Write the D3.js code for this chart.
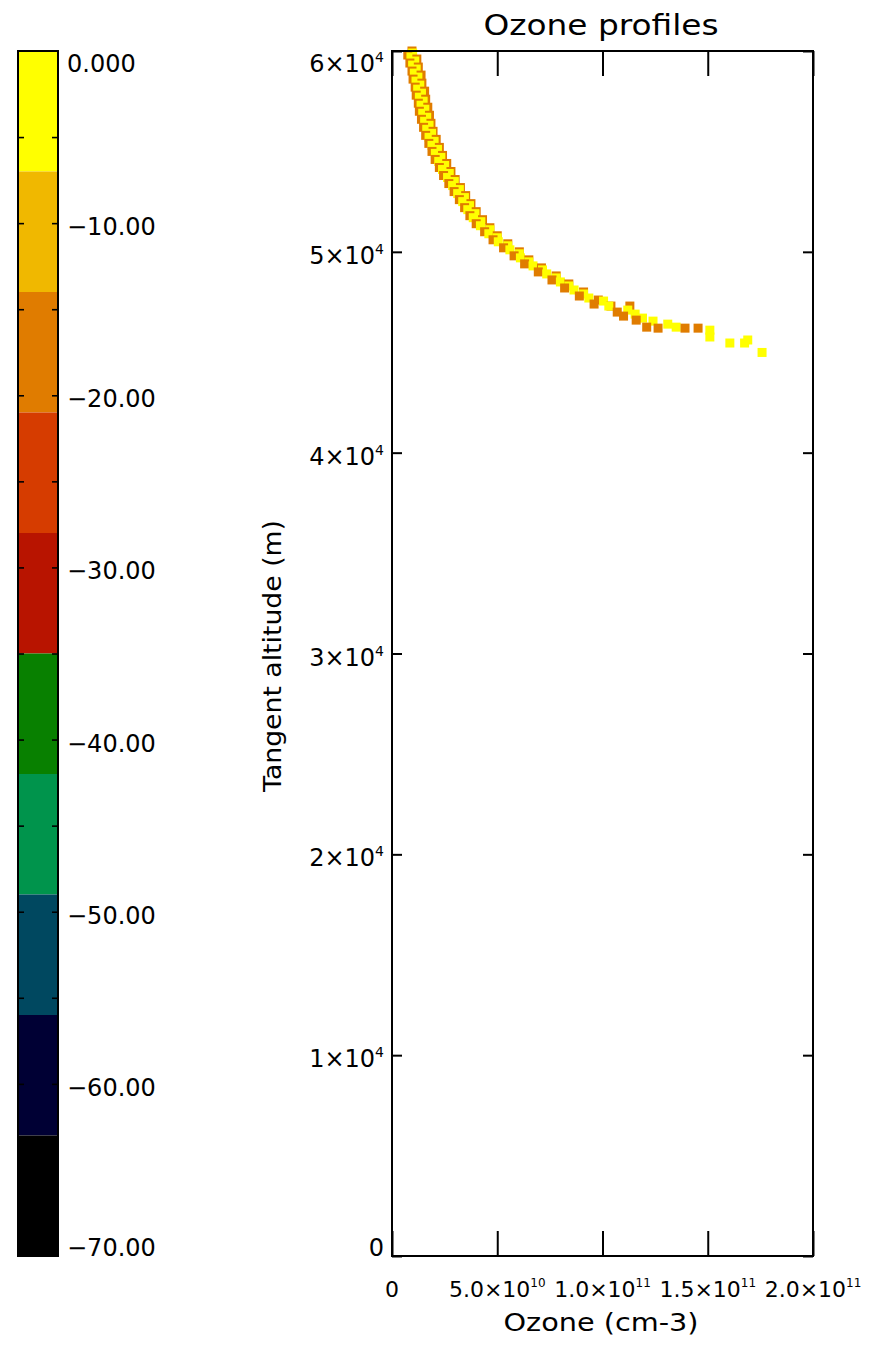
<!DOCTYPE html>
<html>
<head>
<meta charset="utf-8">
<script src="https://cdn.jsdelivr.net/npm/d3@7"></script>
<style>
  html, body { margin: 0; padding: 0; background: #ffffff; }
  text { font-family: "DejaVu Sans", sans-serif; fill: #000; }
</style>
</head>
<body>
<script>
// ---------------- data ----------------
const title = "Ozone profiles";
const xTitle = "Ozone (cm-3)";
const yTitle = "Tangent altitude (m)";

const xTickValues = [0, 5e10, 1e11, 1.5e11, 2e11];
const xTickBase = ["0", "5.0×10", "1.0×10", "1.5×10", "2.0×10"];
const xTickExp = ["", "10", "11", "11", "11"];

const yTickValues = [0, 10000, 20000, 30000, 40000, 50000, 60000];
const yTickBase = ["0", "1×10", "2×10", "3×10", "4×10", "5×10", "6×10"];
const yTickExp = ["", "4", "4", "4", "4", "4", "4"];

const cbEdges = [0, -7, -14, -21, -28, -35, -42, -49, -56, -63, -70];
const cbColors = ["#FFFF00", "#F0B800", "#E07C00", "#D63C00", "#B81400",
                  "#088000", "#00944C", "#004860", "#000034", "#000000"];
const cbTickValues = [0, -10, -20, -30, -40, -50, -60, -70];
const cbTickLabels = ["0.000", "−10.00", "−20.00", "−30.00", "−40.00", "−50.00", "−60.00", "−70.00"];
const cbMinorTicks = [-5, -10, -15, -20, -25, -30, -35, -40, -45, -50, -55, -60, -65];

// profile colour values (read against the colour bar)
const profileYellowValue = -3;
const profileOrangeValue = -17;

// ozone in units of 1e9 cm-3, altitude in m
const orangeOzone = [9.5, 7.5, 11.8, 8.5, 12.5, 9.5, 13.8, 10.0, 14.2, 11.0, 15.5, 11.5, 16.0, 12.5, 17.0,
  13.0, 17.8, 14.0, 18.5, 15.0, 19.5, 16.0, 21.0, 17.5, 22.5, 19.0, 24.0, 20.5, 26.0, 22.5, 28.0, 24.5, 30.0,
  27.0, 32.5, 29.5, 35.0, 32.0, 37.5, 34.5, 40.0, 37.0, 43.0, 40.0, 46.5, 44.0, 50.0, 48.0, 55.0, 53.0, 60.5,
  58.0, 65.0, 63.0, 71.0, 69.5, 78.0, 76.0, 84.0, 82.0, 91.0, 89.0, 98.0, 96.0, 104.0, 107.0, 110.0, 113.0,
  116.0, 121.0, 126.4, 139.2, 145.4];
const orangeAlt = [60000, 59800, 59600, 59400, 59200, 59000, 58800, 58600, 58400, 58200, 58000, 57800, 57600,
  57400, 57200, 57000, 56800, 56600, 56400, 56200, 56000, 55800, 55600, 55400, 55200, 55000, 54800, 54600,
  54400, 54200, 54000, 53800, 53600, 53400, 53200, 53000, 52800, 52600, 52400, 52200, 52000, 51800, 51600,
  51400, 51200, 51000, 50800, 50600, 50400, 50200, 50000, 49800, 49600, 49400, 49200, 49000, 48800, 48600,
  48400, 48200, 48000, 47800, 47600, 47400, 47300, 47000, 46800, 47300, 46600, 46250, 46200, 46200, 46200];

const yellowOzone = [9.8, 9.0, 10.8, 9.8, 11.5, 10.6, 12.3, 11.4, 13.2, 12.2, 14.0, 13.0, 14.8, 13.8, 15.6,
  14.6, 16.5, 15.5, 17.6, 16.5, 18.8, 17.6, 20.0, 19.0, 21.6, 20.6, 23.2, 22.2, 25.0, 24.0, 27.2, 26.4, 29.6,
  28.8, 32.0, 31.2, 34.4, 33.6, 36.8, 36.0, 39.4, 38.6, 42.2, 42.0, 46.5, 46.0, 50.0, 50.5, 55.0, 56.0, 60.5,
  61.0, 65.0, 67.0, 71.5, 73.5, 78.0, 80.0, 84.0, 86.5, 91.0, 93.5, 100.5, 103.0, 112.0, 115.5, 119.0, 124.0,
  131.0, 135.0, 151.0, 151.0, 160.5, 167.5, 169.0, 175.8];
const yellowAlt = [59900, 59700, 59500, 59300, 59100, 58900, 58700, 58500, 58300, 58100, 57900, 57700, 57500,
  57300, 57100, 56900, 56700, 56500, 56300, 56100, 55900, 55700, 55500, 55300, 55100, 54900, 54700, 54500,
  54300, 54100, 53900, 53700, 53500, 53300, 53100, 52900, 52700, 52500, 52300, 52100, 51900, 51700, 51500,
  51300, 51100, 50900, 50700, 50500, 50300, 50100, 49900, 49700, 49500, 49300, 49100, 48900, 48700, 48500,
  48300, 48100, 47900, 47700, 47550, 47300, 47100, 46900, 46700, 46550, 46400, 46250, 46100, 45760, 45460,
  45460, 45610, 44990];

// ---------------- layout ----------------
const W = 875, H = 1349;
const plot = { left: 392, right: 813, top: 51, bottom: 1256 };
const cbox = { left: 18, right: 58, top: 51, bottom: 1256 };

const svg = d3.select("body").append("svg")
  .attr("width", W).attr("height", H)
  .style("display", "block");
svg.append("rect").attr("width", W).attr("height", H).attr("fill", "#fff");

const x = d3.scaleLinear().domain([0, 2e11]).range([plot.left, plot.right]);
const y = d3.scaleLinear().domain([0, 60000]).range([plot.bottom, plot.top]);
const cb = d3.scaleLinear().domain([0, -70]).range([cbox.top, cbox.bottom]);
const colorOf = d3.scaleThreshold()
  .domain(cbEdges.slice(1, -1).slice().reverse())
  .range(cbColors.slice().reverse());

// ---------------- colour bar ----------------
const cbg = svg.append("g");
cbg.selectAll("rect.band").data(d3.range(cbColors.length)).join("rect")
  .attr("class", "band")
  .attr("x", cbox.left).attr("width", cbox.right - cbox.left)
  .attr("y", i => cb(cbEdges[i]))
  .attr("height", i => cb(cbEdges[i + 1]) - cb(cbEdges[i]))
  .attr("fill", (i) => cbColors[i]);

const cbAxL = cbg.append("g").attr("transform", `translate(${cbox.left},0)`)
  .call(d3.axisLeft(cb).tickValues(cbMinorTicks).tickSize(-6).tickFormat(""));
const cbAxR = cbg.append("g").attr("transform", `translate(${cbox.right},0)`)
  .call(d3.axisRight(cb).tickValues(cbMinorTicks).tickSize(-6).tickFormat(""));
[cbAxL, cbAxR].forEach(a => {
  a.select(".domain").remove();
  a.selectAll(".tick line").attr("stroke", "#000").attr("stroke-width", 1.6);
});
cbg.append("rect")
  .attr("x", cbox.left).attr("y", cbox.top)
  .attr("width", cbox.right - cbox.left).attr("height", cbox.bottom - cbox.top)
  .attr("fill", "none").attr("stroke", "#000").attr("stroke-width", 2);

cbg.selectAll("text.cbl").data(cbTickValues).join("text")
  .attr("class", "cbl")
  .attr("x", 67)
  .attr("y", d => Math.min(Math.max(cb(d) + 12, 72), cbox.bottom))
  .attr("font-size", 24)
  .text((d, i) => cbTickLabels[i]);

// ---------------- plot ----------------
const pts = [];
orangeOzone.forEach((v, i) => pts.push({ oz: v * 1e9, alt: orangeAlt[i], val: profileOrangeValue }));
yellowOzone.forEach((v, i) => pts.push({ oz: v * 1e9, alt: yellowAlt[i], val: profileYellowValue }));
pts.sort((a, b) => b.alt - a.alt);

const s = 9;
svg.append("g").selectAll("rect").data(pts).join("rect")
  .attr("x", d => x(d.oz) - s / 2)
  .attr("y", d => y(d.alt) - s / 2)
  .attr("width", s).attr("height", s)
  .attr("fill", d => colorOf(d.val));

const axB = svg.append("g").attr("transform", `translate(0,${plot.bottom})`)
  .call(d3.axisBottom(x).tickValues(xTickValues).tickSize(-25).tickFormat(""));
const axT = svg.append("g").attr("transform", `translate(0,${plot.top})`)
  .call(d3.axisTop(x).tickValues(xTickValues).tickSize(-25).tickFormat(""));
const axL = svg.append("g").attr("transform", `translate(${plot.left},0)`)
  .call(d3.axisLeft(y).tickValues(yTickValues).tickSize(-10).tickFormat(""));
const axR = svg.append("g").attr("transform", `translate(${plot.right},0)`)
  .call(d3.axisRight(y).tickValues(yTickValues).tickSize(-10).tickFormat(""));
[axB, axT, axL, axR].forEach(a => {
  a.select(".domain").remove();
  a.selectAll(".tick line").attr("stroke", "#000").attr("stroke-width", 2);
});
svg.append("rect")
  .attr("x", plot.left).attr("y", plot.top)
  .attr("width", plot.right - plot.left).attr("height", plot.bottom - plot.top)
  .attr("fill", "none").attr("stroke", "#000").attr("stroke-width", 2);

// y tick labels (right-aligned, superscript exponent in the same text)
yTickValues.forEach((v, i) => {
  const base = Math.min(Math.max(y(v) + 12, 72), plot.bottom);
  const t = svg.append("text").attr("x", 384).attr("y", base)
    .attr("font-size", 24).attr("text-anchor", "end");
  t.append("tspan").text(yTickBase[i]);
  if (yTickExp[i]) {
    t.append("tspan").attr("font-size", 14).attr("dy", -10).text(yTickExp[i]);
  }
});

// x tick labels (centred, superscript exponent in the same text)
xTickValues.forEach((v, i) => {
  const t = svg.append("text").attr("x", x(v)).attr("y", 1297)
    .attr("font-size", 22).attr("text-anchor", "middle");
  t.append("tspan").text(xTickBase[i]);
  if (xTickExp[i]) {
    t.append("tspan").attr("font-size", 12).attr("dy", -10).text(xTickExp[i]);
  }
});

// titles
svg.append("text").attr("x", 601).attr("y", 35).attr("font-size", 28)
  .attr("text-anchor", "middle").attr("textLength", 235).attr("lengthAdjust", "spacingAndGlyphs")
  .text(title);
svg.append("text").attr("x", 601).attr("y", 1331).attr("font-size", 24)
  .attr("text-anchor", "middle").attr("textLength", 195).attr("lengthAdjust", "spacingAndGlyphs")
  .text(xTitle);
svg.append("text").attr("transform", `translate(281,656) rotate(-90)`).attr("font-size", 24)
  .attr("text-anchor", "middle").attr("textLength", 272).attr("lengthAdjust", "spacingAndGlyphs")
  .text(yTitle);
</script>
</body>
</html>
